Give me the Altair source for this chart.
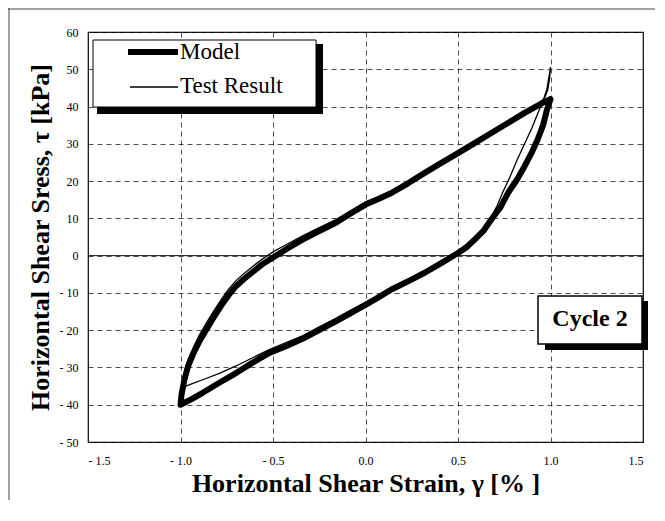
import altair as alt
import pandas as pd

# ---------------- data ----------------
# Model loop (thick line): upper (unloading) branch right->left, then lower (reloading) branch left->right
model_strain = [1.00, 0.95, 0.86, 0.77, 0.68, 0.59, 0.50, 0.41, 0.32, 0.23, 0.14, 0.07, 0.00,
                -0.08, -0.16, -0.25, -0.34, -0.42, -0.50, -0.56, -0.61, -0.66, -0.70, -0.74,
                -0.78, -0.82, -0.86, -0.90, -0.93, -0.96, -0.98, -0.995, -1.00,
                -0.94, -0.88, -0.79, -0.70, -0.61, -0.52, -0.43, -0.34, -0.25, -0.16, -0.08,
                0.00, 0.07, 0.14, 0.23, 0.32, 0.41, 0.50, 0.55, 0.59, 0.64, 0.68, 0.73, 0.77,
                0.82, 0.86, 0.90, 0.93, 0.96, 0.98, 1.00]
model_stress = [42.0, 40.8, 38.3, 35.6, 32.9, 30.2, 27.5, 24.9, 22.2, 19.4, 16.8, 15.2, 13.7,
                11.3, 8.8, 6.6, 4.3, 2.0, -0.5, -2.4, -4.4, -6.4, -8.2, -10.6,
                -13.4, -16.5, -19.8, -23.2, -26.2, -29.8, -33.5, -37.5, -40.0,
                -38.5, -36.8, -34.1, -31.5, -28.7, -26.1, -24.3, -22.3, -20.0, -17.6, -15.4,
                -13.2, -11.2, -9.1, -6.9, -4.6, -2.0, 0.7, 2.4, 4.3, 6.8, 9.7, 13.0, 16.8,
                20.5, 24.0, 27.8, 31.1, 35.0, 39.0, 42.0]

# Test result loop (thin line)
test_strain = [1.00, 0.995, 0.985, 0.97, 0.95, 0.86, 0.77, 0.68, 0.59, 0.50, 0.41, 0.32, 0.23,
               0.14, 0.07, 0.00, -0.08, -0.16, -0.25, -0.34, -0.42, -0.50, -0.56, -0.61, -0.66,
               -0.70, -0.74, -0.78, -0.82, -0.86, -0.90, -0.93, -0.96, -0.98, -0.99,
               -0.97, -0.94, -0.88, -0.79, -0.70, -0.61, -0.52, -0.43, -0.34, -0.25, -0.16,
               -0.08, 0.00, 0.07, 0.14, 0.23, 0.32, 0.41, 0.50, 0.55, 0.59, 0.64, 0.68, 0.71,
               0.74, 0.78, 0.82, 0.86, 0.90, 0.93, 0.96, 0.98, 0.99, 1.00]
test_stress = [50.5, 47.5, 44.5, 42.5, 41.3, 38.8, 36.2, 33.4, 30.7, 28.0, 25.4, 22.7, 20.0,
               17.4, 15.8, 14.4, 12.0, 9.7, 7.5, 5.3, 3.2, 1.0, -1.0, -2.9, -4.9,
               -6.7, -9.0, -11.8, -14.8, -18.0, -21.5, -24.6, -28.0, -31.5, -34.5,
               -35.0, -34.4, -33.3, -31.6, -29.6, -27.4, -25.2, -23.3, -21.5, -19.1, -16.8,
               -14.6, -12.5, -10.6, -8.5, -6.3, -4.0, -1.4, 1.3, 3.2, 5.0, 7.5, 10.5, 13.2,
               16.8, 21.0, 25.7, 30.0, 34.3, 38.0, 41.6, 44.5, 47.5, 50.5]

x_ticks = [-1.5, -1.0, -0.5, 0.0, 0.5, 1.0, 1.5]
y_ticks = [-50, -40, -30, -20, -10, 0, 10, 20, 30, 40, 50, 60]
series_names = ["Model", "Test Result"]

rows = []
for name, xs, ys in [(series_names[0], model_strain, model_stress),
                     (series_names[1], test_strain, test_stress)]:
    for i, (a, b) in enumerate(zip(xs, ys)):
        rows.append({"series": name, "strain": a, "stress": b, "order": i})
df = pd.DataFrame(rows)

SERIF = "Liberation Serif"
W, H = 555, 410
PAD = {"left": 80, "top": 24, "right": 12, "bottom": 58}

x_enc = alt.X("strain:Q",
              scale=alt.Scale(domain=[-1.5, 1.5], nice=False, zero=False),
              axis=alt.Axis(values=x_ticks, title="Horizontal Shear Strain, γ  [% ]",
                            labelExpr="datum.value < 0 ? '- ' + format(-datum.value, '.1f') : format(datum.value, '.1f')",
                            labelPadding=13, titlePadding=4))
y_enc = alt.Y("stress:Q",
              scale=alt.Scale(domain=[-50, 60], nice=False, zero=False),
              axis=alt.Axis(values=y_ticks, title="Horizontal Shear Sress,  τ  [kPa]",
                            labelExpr="datum.value < 0 ? '- ' + format(-datum.value, 'd') : format(datum.value, 'd')",
                            labelPadding=10, titlePadding=6))

base = alt.Chart(df).encode(x=x_enc, y=y_enc, order="order:Q")

zero_line = alt.Chart(pd.DataFrame({"stress": [0]})).mark_rule(
    color="#111", strokeWidth=1).encode(y=y_enc)

model_line = base.transform_filter(alt.datum.series == "Model").mark_line(
    color="black", strokeWidth=6, strokeJoin="round", strokeCap="round")
test_line = base.transform_filter(alt.datum.series == "Test Result").mark_line(
    color="black", strokeWidth=1.3, strokeJoin="round", strokeCap="round")

one = pd.DataFrame({"k": [0]})


def box(x1, x2, y1, y2, fill, stroke=None, sw=0):
    kw = dict(fill=fill)
    if stroke:
        kw.update(stroke=stroke, strokeWidth=sw)
    return alt.Chart(one).mark_rect(**kw).encode(
        x=alt.value(x1), x2=alt.value(x2), y=alt.value(y1), y2=alt.value(y2))


def seg(x1, x2, y, sw):
    return alt.Chart(one).mark_rule(color="black", strokeWidth=sw).encode(
        x=alt.value(x1), x2=alt.value(x2), y=alt.value(y))


def label(x, y, txt, size, weight="normal", align="left"):
    return alt.Chart(one).mark_text(font=SERIF, fontSize=size, fontWeight=weight,
                                    align=align, baseline="middle", color="black").encode(
        x=alt.value(x), y=alt.value(y), text=alt.value(txt))

# legend (drawn box with shadow)
legend_layers = [
    box(9, 235, 12, 82, "black"),
    box(5, 228, 8, 75, "white", "black", 1),
    seg(40, 90, 20, 6),
    seg(42, 90, 55, 1.3),
    label(92, 20, series_names[0], 23),
    label(92, 54, series_names[1], 23),
]

# "Cycle 2" box
cycle_layers = [
    box(457, 560, 269, 318, "black"),
    box(450, 554, 264, 312, "white", "black", 1.5),
    label(502, 287, "Cycle 2", 24, "bold", "center"),
]

# outer frame (top & left edges of the scanned figure)
frame_layers = [
    alt.Chart(one).mark_rule(color="#444", strokeWidth=1).encode(
        x=alt.value(-80), x2=alt.value(W + PAD["right"]), y=alt.value(-23)),
    alt.Chart(one).mark_rule(color="#444", strokeWidth=1).encode(
        x=alt.value(-79), y=alt.value(-24), y2=alt.value(H + PAD["bottom"])),
]

chart = alt.layer(
    zero_line, model_line, test_line,
    *legend_layers, *cycle_layers, *frame_layers
).properties(
    width=W, height=H,
    autosize=alt.AutoSizeParams(type="none"),
    padding=PAD,
    background="white",
).configure_view(
    stroke="black", strokeWidth=1.2
).configure_axis(
    grid=True, gridColor="#222", gridDash=[5, 4], gridWidth=0.8, gridOpacity=1,
    ticks=False, domain=False,
    labelFont=SERIF, labelFontSize=12, labelColor="black",
    titleFont=SERIF, titleFontSize=26, titleFontWeight="bold", titleColor="black",
)

chart.save("out.html", embed_options={"renderer": "svg", "actions": False})
